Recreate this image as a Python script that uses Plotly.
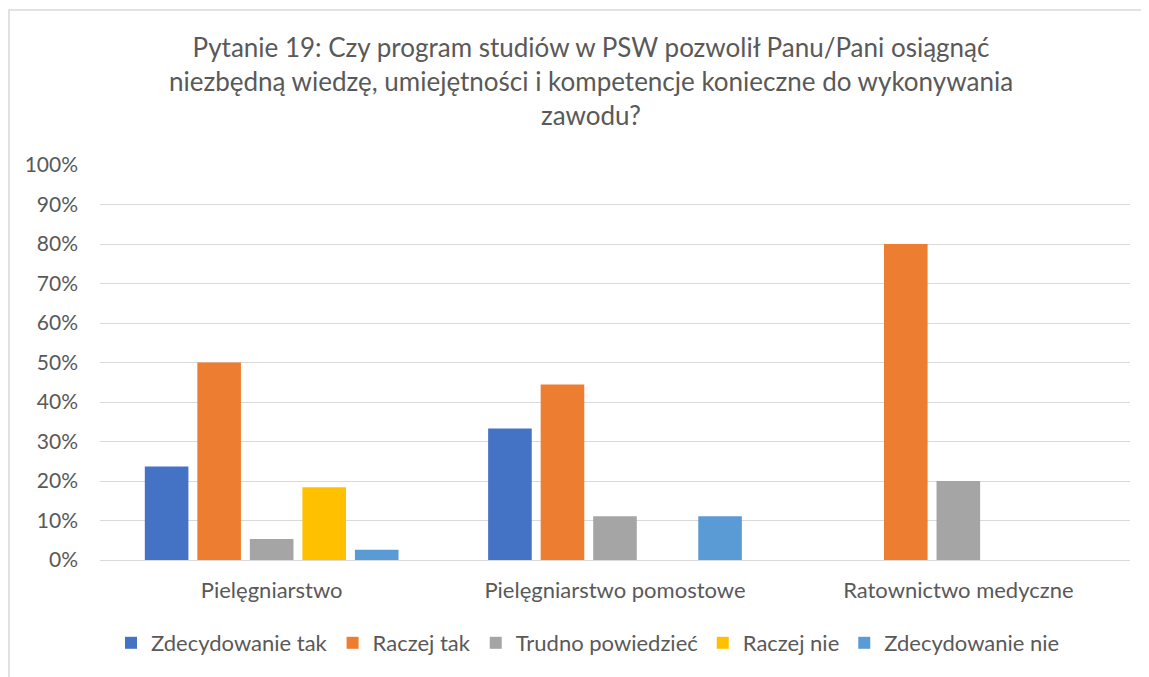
import plotly.graph_objects as go

categories = ["Pielęgniarstwo", "Pielęgniarstwo pomostowe", "Ratownictwo medyczne"]
series_names = ["Zdecydowanie tak", "Raczej tak", "Trudno powiedzieć", "Raczej nie", "Zdecydowanie nie"]
zdecydowanie_tak = [0.237, 0.333, 0.0]
raczej_tak = [0.50, 0.444, 0.80]
trudno_powiedziec = [0.053, 0.111, 0.20]
raczej_nie = [0.184, 0.0, 0.0]
zdecydowanie_nie = [0.026, 0.111, 0.0]
tick_vals = [i / 10 for i in range(11)]
tick_text = [f"{i*10}%" for i in range(11)]
title_text = ("Pytanie 19: Czy program studiów w PSW pozwolił Panu/Pani osiągnąć<br>"
              "niezbędną wiedzę, umiejętności i kompetencje konieczne do wykonywania<br>zawodu?")

colors = ["#4472C4", "#ED7D31", "#A5A5A5", "#FFC000", "#5B9BD5"]
values = [zdecydowanie_tak, raczej_tak, trudno_powiedziec, raczej_nie, zdecydowanie_nie]

fig = go.Figure()
for name, vals, col in zip(series_names, values, colors):
    fig.add_trace(go.Bar(x=categories, y=vals, name=name, marker=dict(color=col, line_width=0)))

FONT = "Lato, Carlito, Calibri, sans-serif"
OFF = 8  # page body margin
W, H = 1149 - OFF, 677 - OFF
L, T = 100 - OFF, 165 - OFF
R = W - (1130 - OFF)
B = H - (560 - OFF)
pw, ph = W - L - R, H - T - B

fig.update_layout(
    width=W, height=H,
    margin=dict(l=L, r=R, t=T, b=B),
    paper_bgcolor="white", plot_bgcolor="white",
    font=dict(family=FONT, color="#595959", size=21),
    title=dict(text=title_text, x=(591 - OFF) / W, xanchor="center", y=1 - 49 / H, yanchor="top",
               font=dict(size=26, color="#595959", family=FONT)),
    barmode="group", bargap=0.235, bargroupgap=0.17,
    showlegend=True,
    legend=dict(orientation="h", x=(588 - OFF - L) / pw, xanchor="center", y=-(643 - 560) / ph, yanchor="middle",
                font=dict(size=22, color="#595959"), itemwidth=30, traceorder="normal"),
    xaxis=dict(showgrid=False, showline=False, ticks="", tickfont=dict(size=22)),
    yaxis=dict(range=[0, 1.0], tickvals=tick_vals, ticktext=tick_text, showgrid=True,
               gridcolor="#D9D9D9", gridwidth=1, zeroline=True, zerolinecolor="#D9D9D9",
               zerolinewidth=1, showline=False, ticks="", tickfont=dict(size=21)),
)
fig.update_xaxes(ticklabelstandoff=15)
fig.update_yaxes(ticklabelstandoff=21)

# chart-area border
fig.add_shape(type="rect", xref="paper", yref="paper",
              x0=(1 - L) / pw, x1=(W + 20 - L) / pw,
              y0=-(H + 20 - T - ph) / ph, y1=(H - B - 2) / ph,
              line=dict(color="#D9D9D9", width=1.5), fillcolor="rgba(0,0,0,0)", layer="below")

fig.write_html("out.html")
